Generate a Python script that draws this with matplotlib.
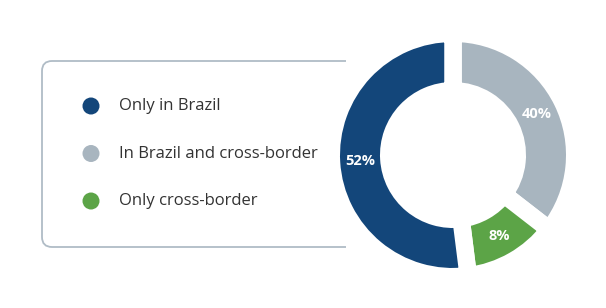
import matplotlib.pyplot as plt
from matplotlib.patches import FancyBboxPatch, Rectangle, Circle

# data
labels = ['Only in Brazil', 'In Brazil and cross-border', 'Only cross-border']
shares = [52, 40, 8]              # printed percentages
arc_sizes = [52, 35.5, 12.5]      # arc sizes as drawn in the source graphic
colors = ['#13467a', '#a8b5bf', '#5ca447']

# pie drawn clockwise from top: gray, green, navy
pie_order = [1, 2, 0]

W, H = 606, 308
fig = plt.figure(figsize=(W / 100, H / 100), dpi=100)
ax = fig.add_axes([0, 0, 1, 1])
ax.set_xlim(0, W)
ax.set_ylim(0, H)
ax.set_aspect('equal')
ax.axis('off')

def py(y):
    return H - y

# legend box, open on the right side
box = FancyBboxPatch((42, py(247)), 400, 186, boxstyle='round,pad=0,rounding_size=10',
                     facecolor='none', edgecolor='#b0bcc6', linewidth=1.3)
ax.add_patch(box)
box.set_clip_path(Rectangle((0, 0), 346, H, transform=ax.transData))

for i, lab in enumerate(labels):
    y = py(106 + i * 47.5)
    ax.add_patch(Circle((91, y), 8.5, color=colors[i], lw=0))
    ax.text(119, y, lab, fontsize=12, family='Open Sans', color='#333333',
            va='center', ha='left')

# donut
gap = 17.5
R = 113 + gap / 2
inner = 73 - gap / 2
vals = [arc_sizes[i] for i in pie_order]
cols = [colors[i] for i in pie_order]
wedges, _, autotexts = ax.pie(vals, colors=cols, startangle=90, counterclock=False,
                              center=(453, py(155)), radius=R,
                              autopct='', pctdistance=93 / R,
                              wedgeprops=dict(width=R - inner, edgecolor='white',
                                              linewidth=gap * 72 / 100))
for t, i in zip(autotexts, pie_order):
    t.set_text(f'{shares[i]}%')
    t.set_color('white')
    t.set_fontsize(10.5)
    t.set_fontweight('bold')
    t.set_family('Open Sans')

ax.set_xlim(0, W)
ax.set_ylim(0, H)

fig.savefig('out.png', dpi=100)
